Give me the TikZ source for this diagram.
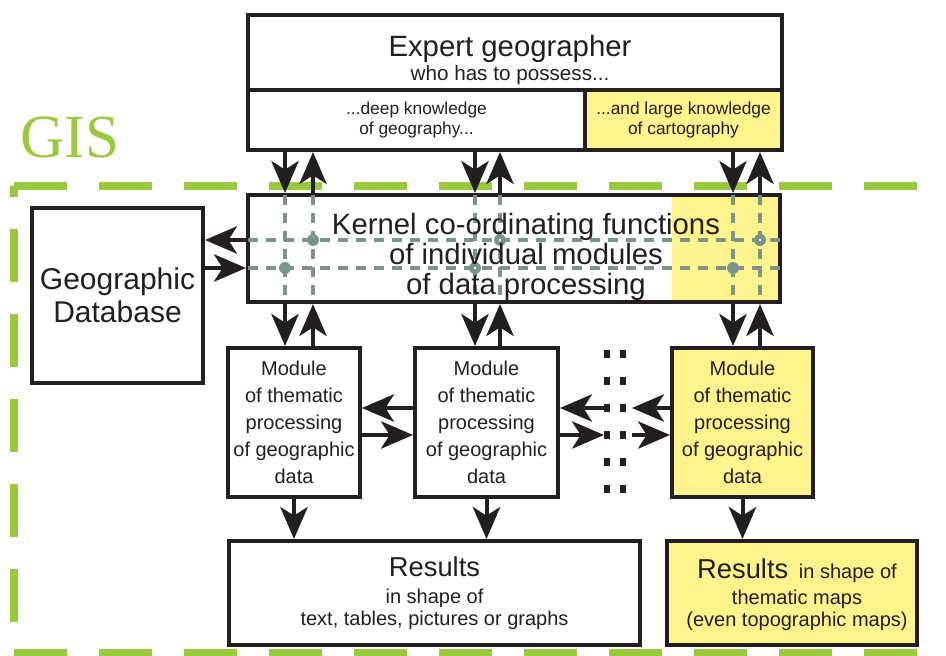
\documentclass[tikz,border=0pt]{standalone}
\usepackage{fontspec}
\setmainfont{Liberation Sans}
\newfontfamily\gisfont{Liberation Serif}
\usetikzlibrary{arrows.meta}

\definecolor{ink}{RGB}{35,31,32}
\definecolor{gisgreen}{RGB}{153,202,60}
\definecolor{cartoyellow}{RGB}{255,243,139}
\definecolor{linkgray}{RGB}{122,148,138}

\tikzset{
 plainbox/.style={draw=ink, line width=3pt, fill=white, inner sep=0pt, align=center, text=ink},
 yellowbox/.style={plainbox, fill=cartoyellow},
 flowarrow/.style={draw=ink, line width=3pt, -{Stealth[length=24pt,width=20.5pt,inset=6.5pt]}},
 linkline/.style={linkgray, line width=3pt, dash pattern=on 7.5pt off 6pt},
 gisline/.style={gisgreen, line width=6pt, dash pattern=on 39.75pt off 24pt},
 sepdots/.style={ink, line width=4.5pt, dash pattern=on 6pt off 14.25pt},
}

\begin{document}
\begin{tikzpicture}[x=0.75pt,y=-0.75pt]
 \useasboundingbox (0,0) rectangle (946,656);

 % GIS frame
 \draw[gisline] (14,186) -- (946,186);
 \draw[gisline, dash phase=31.5pt] (14,186) -- (14,653);
 \draw[gisline] (14,653) -- (946,653);
 \node[text=gisgreen, font=\gisfont\fontsize{46}{50}\selectfont] (gis) at (70,137) {GIS};

 % expert
 \node[plainbox, minimum width=400.5pt, minimum height=56.25pt] (expert) at (515,52.5) {};
 \node[align=center, text=ink, inner sep=0pt, font=\fontsize{15.5}{18}\selectfont] (experttext) at (510,60)
  {{\fontsize{22}{26}\selectfont Expert geographer}\\ who has to possess...};
 \node[plainbox, minimum width=252.75pt, minimum height=45pt, font=\fontsize{13}{15}\selectfont] (deep) at (416.5,120)
  {...deep knowledge\\of geography...};
 \node[yellowbox, minimum width=147.75pt, minimum height=45pt, font=\fontsize{13}{15}\selectfont] (carto) at (683.5,120)
  {...and large knowledge\\of cartography};

 % kernel
 \node[plainbox, minimum width=399pt, minimum height=80.25pt,
  path picture={\fill[cartoyellow] ([xshift=-81pt]path picture bounding box.north east) rectangle (path picture bounding box.south east);}]
  (kernel) at (514,248.5) {};
 \coordinate (c1) at (285,0);
 \coordinate (c2) at (313,0);
 \coordinate (c3) at (475,0);
 \coordinate (c4) at (500,0);
 \coordinate (c5) at (733,0);
 \coordinate (c6) at (760,0);
 \coordinate (r1) at (0,240);
 \coordinate (r2) at (0,268);
 \coordinate (r3) at (0,408);
 \coordinate (r4) at (0,435);
 \draw[linkline, shorten <=1.5pt, shorten >=1.5pt] (kernel.west |- r1) -- (kernel.east |- r1);
 \draw[linkline, shorten <=1.5pt, shorten >=1.5pt] (kernel.west |- r2) -- (kernel.east |- r2);
 \draw[linkline, shorten <=1.5pt, shorten >=1.5pt] (c1 |- kernel.north) -- (c1 |- kernel.south);
 \draw[linkline, shorten <=1.5pt, shorten >=1.5pt] (c2 |- kernel.north) -- (c2 |- kernel.south);
 \draw[linkline, shorten <=1.5pt, shorten >=1.5pt] (c3 |- kernel.north) -- (c3 |- kernel.south);
 \draw[linkline, shorten <=1.5pt, shorten >=1.5pt] (c4 |- kernel.north) -- (c4 |- kernel.south);
 \draw[linkline, shorten <=1.5pt, shorten >=1.5pt] (c5 |- kernel.north) -- (c5 |- kernel.south);
 \draw[linkline, shorten <=1.5pt, shorten >=1.5pt] (c6 |- kernel.north) -- (c6 |- kernel.south);
 \fill[linkgray] (c2 |- r1) circle (4.5pt) (c4 |- r1) circle (4.5pt) (c6 |- r1) circle (4.5pt);
 \fill[linkgray] (c1 |- r2) circle (4.5pt) (c3 |- r2) circle (4.5pt) (c5 |- r2) circle (4.5pt);
 \fill[white] (c4 |- r1) circle (1pt) (c3 |- r2) circle (1pt) (c6 |- r1) circle (1pt);
 \node[align=center, text=ink, inner sep=0pt, font=\fontsize{22}{22.5}\selectfont] (kerneltext) at (526,257)
  {Kernel co-ordinating functions\\of individual modules\\of data processing};

 % database
 \node[plainbox, minimum width=128.25pt, minimum height=131.25pt, font=\fontsize{22.5}{24.75}\selectfont] (db) at (117.5,295.5)
  {Geographic\\Database};

 % modules
 \node[plainbox, minimum width=99pt, minimum height=111.75pt, font=\fontsize{15}{20.25}\selectfont] (mod1) at (294,422.5)
  {Module\\of thematic\\processing\\of geographic\\data};
 \node[plainbox, minimum width=107.25pt, minimum height=111.75pt, font=\fontsize{15}{20.25}\selectfont] (mod2) at (486.5,422.5)
  {Module\\of thematic\\processing\\of geographic\\data};
 \node[yellowbox, minimum width=105.75pt, minimum height=111.75pt, font=\fontsize{15}{20.25}\selectfont] (mod3) at (742.5,422.5)
  {Module\\of thematic\\processing\\of geographic\\data};
 \coordinate (sepw) at (604,422);
 \coordinate (sepe) at (632,422);
 \draw[sepdots] (607,350) -- (607,497);
 \draw[sepdots] (623,350) -- (623,497);

 % results
 \node[plainbox, minimum width=308.25pt, minimum height=78pt, font=\fontsize{15}{16.5}\selectfont] (results) at (434.5,593)
  {{\fontsize{20.5}{24}\selectfont Results}\\[4pt] in shape of\\ text, tables, pictures or graphs};
 \node[yellowbox, minimum width=187.5pt, minimum height=78pt] (yresults) at (792,593) {};
 \node[align=center, text=ink, inner sep=0pt, font=\fontsize{15}{16.5}\selectfont] (yresultstext) at (797,595)
  {{\fontsize{20.5}{24}\selectfont Results}\hspace{8pt}in shape of\\[3pt] thematic maps\\ (even topographic maps)};

 % arrows expert <-> kernel
 \draw[flowarrow] (c1 |- deep.south) -- (c1 |- kernel.north);
 \draw[flowarrow] (c2 |- kernel.north) -- (c2 |- deep.south);
 \draw[flowarrow] (c3 |- deep.south) -- (c3 |- kernel.north);
 \draw[flowarrow] (c4 |- kernel.north) -- (c4 |- deep.south);
 \draw[flowarrow] (c5 |- carto.south) -- (c5 |- kernel.north);
 \draw[flowarrow] (c6 |- kernel.north) -- (c6 |- carto.south);

 % arrows kernel <-> database
 \draw[flowarrow] (kernel.west |- r1) -- (db.east |- r1);
 \draw[flowarrow] (db.east |- r2) -- (kernel.west |- r2);

 % arrows kernel <-> modules
 \draw[flowarrow] (c1 |- kernel.south) -- (c1 |- mod1.north);
 \draw[flowarrow] (c2 |- mod1.north) -- (c2 |- kernel.south);
 \draw[flowarrow] (c3 |- kernel.south) -- (c3 |- mod2.north);
 \draw[flowarrow] (c4 |- mod2.north) -- (c4 |- kernel.south);
 \draw[flowarrow] (c5 |- kernel.south) -- (c5 |- mod3.north);
 \draw[flowarrow] (c6 |- mod3.north) -- (c6 |- kernel.south);

 % arrows between modules
 \draw[flowarrow] (mod2.west |- r3) -- (mod1.east |- r3);
 \draw[flowarrow] (mod1.east |- r4) -- (mod2.west |- r4);
 \draw[flowarrow] (sepw |- r3) -- (mod2.east |- r3);
 \draw[flowarrow] (mod2.east |- r4) -- (sepw |- r4);
 \draw[flowarrow] (mod3.west |- r3) -- (sepe |- r3);
 \draw[flowarrow] (sepe |- r4) -- (mod3.west |- r4);

 % arrows modules -> results
 \draw[flowarrow] (mod1.south) -- (mod1.south |- results.north);
 \draw[flowarrow] (mod2.south) -- (mod2.south |- results.north);
 \draw[flowarrow] (mod3.south) -- (mod3.south |- yresults.north);
\end{tikzpicture}
\end{document}
